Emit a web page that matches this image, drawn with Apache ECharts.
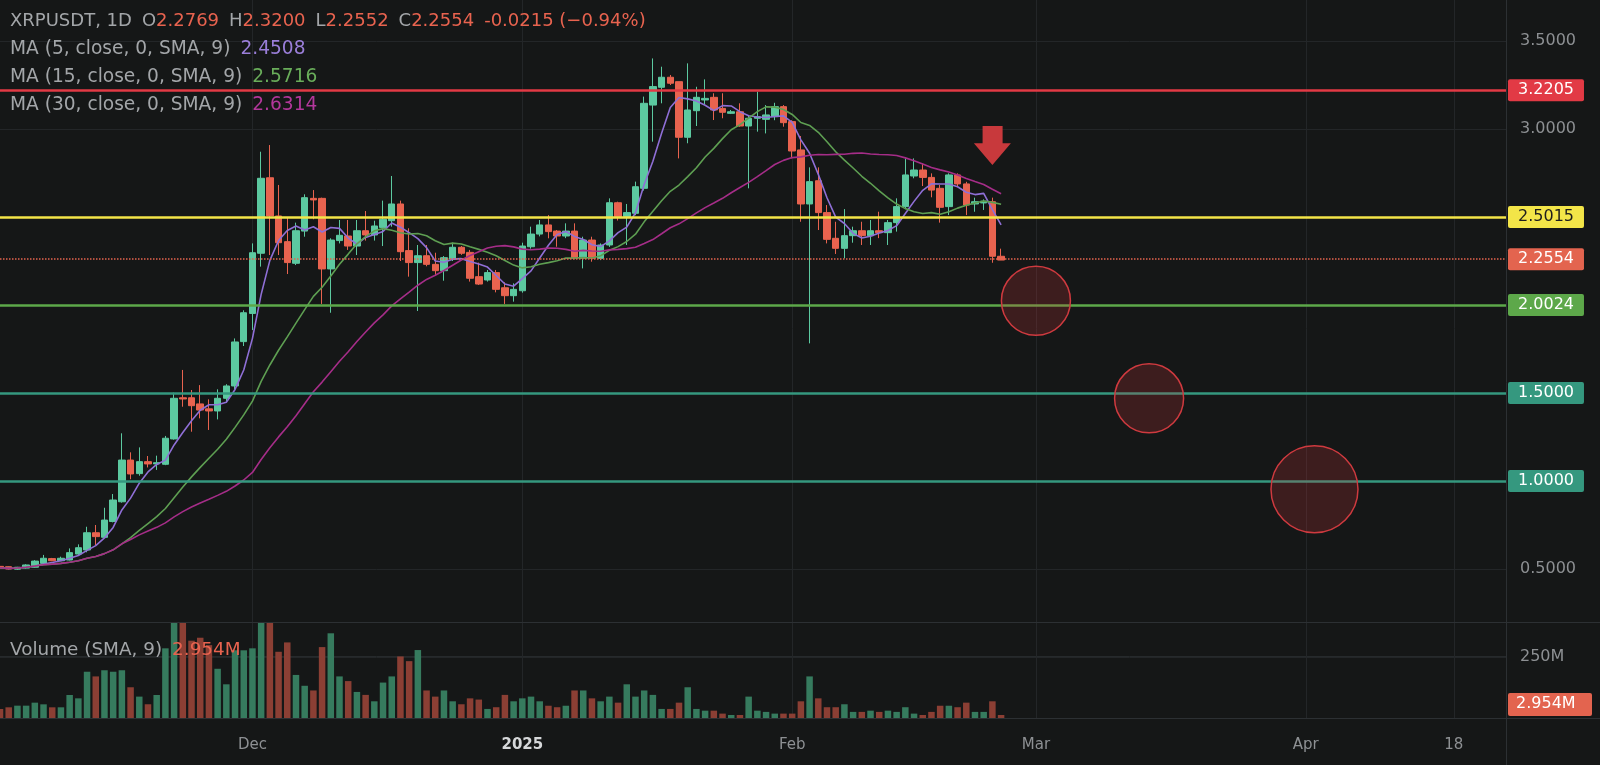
<!DOCTYPE html>
<html>
<head>
<meta charset="utf-8">
<script src="https://cdn.jsdelivr.net/npm/echarts@6/dist/echarts.min.js"></script>
<style>
html,body{margin:0;padding:0;background:#151717;}
#c{width:1600px;height:765px;}
</style>
</head>
<body>
<div id="c"></div>
<script>
// ---------- DATA ----------
const firstDay = [2024, 10, 2];   // 2024-11-02 (month index 10)
const dayCount = 174;             // axis runs to 2025-04-24

// daily candles [open, close, low, high], from 2024-11-02 to 2025-02-25
const ohlc = [
[0.515,0.507,0.500,0.520],[0.513,0.500,0.497,0.515],[0.499,0.510,0.495,0.512],[0.505,0.523,0.502,0.527],[0.510,0.545,0.508,0.550],
[0.532,0.561,0.530,0.580],[0.559,0.547,0.544,0.563],[0.547,0.561,0.545,0.570],[0.551,0.593,0.549,0.617],[0.585,0.621,0.580,0.640],
[0.608,0.706,0.595,0.740],[0.706,0.684,0.636,0.750],[0.680,0.778,0.675,0.848],[0.770,0.892,0.765,0.926],[0.882,1.119,0.877,1.271],
[1.119,1.040,1.010,1.163],[1.042,1.110,1.030,1.191],[1.110,1.097,1.077,1.142],[1.097,1.104,1.063,1.144],[1.095,1.243,1.090,1.256],
[1.239,1.470,1.235,1.502],[1.473,1.466,1.422,1.631],[1.473,1.428,1.280,1.517],[1.438,1.403,1.356,1.545],[1.410,1.398,1.290,1.464],
[1.398,1.470,1.350,1.521],[1.470,1.540,1.445,1.550],[1.540,1.790,1.520,1.810],[1.792,1.956,1.767,1.970],[1.952,2.297,1.858,2.350],
[2.294,2.720,2.218,2.871],[2.723,2.506,2.284,2.909],[2.506,2.354,2.284,2.682],[2.360,2.241,2.176,2.498],[2.237,2.422,2.227,2.468],
[2.420,2.610,2.388,2.629],[2.606,2.597,2.487,2.653],[2.606,2.205,2.006,2.610],[2.205,2.369,1.956,2.379],[2.366,2.396,2.350,2.483],
[2.392,2.335,2.313,2.483],[2.335,2.422,2.284,2.483],[2.422,2.398,2.366,2.534],[2.398,2.449,2.366,2.479],[2.441,2.487,2.335,2.593],
[2.479,2.574,2.445,2.733],[2.574,2.303,2.250,2.593],[2.309,2.241,2.161,2.436],[2.241,2.280,1.966,2.341],[2.280,2.231,2.220,2.341],
[2.231,2.195,2.167,2.297],[2.195,2.269,2.138,2.278],[2.260,2.328,2.250,2.354],[2.328,2.294,2.285,2.335],[2.299,2.152,2.133,2.313],
[2.161,2.119,2.114,2.241],[2.142,2.184,2.133,2.199],[2.184,2.089,2.072,2.199],[2.098,2.053,2.006,2.129],[2.053,2.089,2.019,2.123],
[2.081,2.335,2.070,2.354],[2.331,2.403,2.320,2.445],[2.403,2.455,2.390,2.483],[2.455,2.417,2.379,2.511],[2.420,2.392,2.331,2.426],
[2.392,2.420,2.380,2.464],[2.420,2.265,2.260,2.464],[2.265,2.369,2.208,2.388],[2.369,2.265,2.246,2.388],[2.265,2.341,2.255,2.350],
[2.341,2.581,2.330,2.606],[2.581,2.502,2.480,2.587],[2.502,2.525,2.341,2.574],[2.521,2.672,2.510,2.701],[2.663,3.146,2.650,3.184],
[3.136,3.241,2.928,3.401],[3.237,3.294,3.146,3.354],[3.294,3.260,3.250,3.307],[3.269,2.953,2.833,3.269],[2.953,3.108,2.919,3.373],
[3.104,3.180,3.017,3.240],[3.165,3.174,3.140,3.282],[3.180,3.108,3.051,3.203],[3.117,3.095,3.061,3.203],[3.089,3.098,3.085,3.108],
[3.098,3.017,3.013,3.146],[3.017,3.061,2.663,3.075],[3.061,3.070,2.985,3.212],[3.055,3.080,2.975,3.136],[3.070,3.127,3.050,3.149],
[3.127,3.036,3.013,3.136],[3.042,2.875,2.833,3.050],[2.881,2.574,2.473,2.960],[2.574,2.701,1.782,2.782],[2.706,2.525,2.426,2.782],
[2.525,2.373,2.350,2.568],[2.379,2.322,2.290,2.473],[2.322,2.394,2.265,2.545],[2.394,2.422,2.354,2.445],[2.422,2.394,2.341,2.473],
[2.394,2.422,2.341,2.483],[2.422,2.411,2.380,2.530],[2.411,2.468,2.341,2.483],[2.468,2.559,2.417,2.606],[2.559,2.739,2.544,2.833],
[2.733,2.767,2.720,2.833],[2.767,2.725,2.676,2.805],[2.725,2.653,2.612,2.748],[2.663,2.555,2.468,2.682],[2.559,2.739,2.511,2.748],
[2.739,2.688,2.676,2.748],[2.688,2.568,2.511,2.700],[2.574,2.587,2.530,2.610],[2.580,2.590,2.540,2.600],[2.587,2.2769,2.240,2.610],
[2.2769,2.2554,2.2552,2.3200]
];

// daily volume, millions
const volume = [
37.8,44.6,51.3,51.3,63.5,56.7,44.6,44.6,94.6,81,
189,170,195,189,195,126,88,57,94.6,284,
420,450,315,327,297,201,138,276,276,284,
400,420,270,308,176,132,113,289,345,170,
151,107,95,69,145,170,251,232,277,113,
88,113,69,57,81,76,38,45,95,69,
81,88,69,51,45,51,113,113,81,69,
88,63.5,138,88,113,95,38,38,63.5,126,
38,31,31,19,13.5,13.5,88,31,26,19,
19,19,69,170,81,45,45,57,26,26,
31,26,31,26,45,19,13.5,26,51,51,
45,63.5,26,26,69,13.5
];

// horizontal levels
const levelValues = [3.2205, 2.5015, 2.2554, 2.0024, 1.5, 1.0];
const levelColors = ['#e23a45', '#f3e548', '#e3644f', '#5da84a', '#35987f', '#35987f'];
const levelText   = ['#ffffff', '#1d1d1d', '#ffffff', '#ffffff', '#ffffff', '#ffffff'];
const levelDash   = ['solid', 'solid', 'dotted', 'solid', 'solid', 'solid'];
const levelWidth  = [2.5, 2.5, 1.5, 2.5, 2.5, 2.5];

// target circles: [day index, price], diameter px
const targets = [[119, 2.024], [132, 1.47], [151, 0.953]];
const targetSizes = [69, 69, 87];
// arrow marker over the breakdown candle
const arrowPoint = [[114, 2.906]];

// x tick labels
const tickDates  = ['2024-12-01', '2025-01-01', '2025-02-01', '2025-03-01', '2025-04-01', '2025-04-18'];
const tickNames  = ['Dec', '2025', 'Feb', 'Mar', 'Apr', '18'];
const priceTicksShown = [0.5, 3.0, 3.5];

// legend values
const header = {sym: 'XRPUSDT, 1D', o: '2.2769', h: '2.3200', l: '2.2552', c: '2.2554', chg: '-0.0215 (\u22120.94%)'};
const maLengths = [5, 15, 30];
const maLegendValues = ['2.4508', '2.5716', '2.6314'];
const maColors = ['#8f6fd6', '#5e9f52', '#a52d88'];
const maLegendColors = ['#9a7ed8', '#69ad5a', '#b2379b'];
const volumeLegendValue = '2.954M';

// ---------- BUILD ----------
const categories = [];
(function () {
  const t0 = Date.UTC(firstDay[0], firstDay[1], firstDay[2]);
  for (let i = 0; i < dayCount; i++) categories.push(new Date(t0 + i * 86400000).toISOString().slice(0, 10));
})();
const tickMap = {};
tickDates.forEach((d, i) => tickMap[d] = tickNames[i]);

const closes = ohlc.map(r => r[1]);
function movingAverage(n) {
  return closes.map((_, i) => {
    const s = Math.max(0, i - n + 1);
    let sum = 0;
    for (let k = s; k <= i; k++) sum += closes[k];
    return +(sum / (i - s + 1)).toFixed(4);
  });
}

const UP = '#5cc9a0', DOWN = '#e8634f';
const VUP = '#367b5e', VDOWN = '#8b3f34';
const FONT = 'DejaVu Sans';
const BG = '#151717';
const GRIDC = '#232628';

const volData = volume.map((v, i) => ({
  value: v,
  itemStyle: {color: ohlc[i][1] >= ohlc[i][0] ? VUP : VDOWN}
}));

const markLineData = levelValues.map((v, i) => ({
  yAxis: v,
  lineStyle: {color: levelColors[i], width: levelWidth[i], type: levelDash[i]},
  label: {
    show: true, position: 'end', distance: 2,
    formatter: () => v.toFixed(4),
    backgroundColor: levelColors[i], color: levelText[i],
    fontFamily: FONT, fontSize: 16, lineHeight: 17,
    padding: [3, 10, 2, 10], borderRadius: 2
  }
}));

function richStyle(color, size) {
  return {color: color, fontFamily: FONT, fontSize: size, lineHeight: 22, fontWeight: 'normal'};
}
const titles = [
  {
    left: 10, top: 10, padding: 0,
    text: `{n|${header.sym}}  {n|O}{v|${header.o}}  {n|H}{v|${header.h}}  {n|L}{v|${header.l}}  {n|C}{v|${header.c}}  {v|${header.chg}}`,
    textStyle: {fontWeight: 'normal', rich: {n: richStyle('#a3a6a9', 18), v: richStyle('#e8634f', 18)}}
  }
];
maLengths.forEach((n, i) => {
  titles.push({
    left: 10, top: 38 + i * 28, padding: 0,
    text: `{n|MA (${n}, close, 0, SMA, 9)}  {v|${maLegendValues[i]}}`,
    textStyle: {fontWeight: 'normal', rich: {n: richStyle('#a3a6a9', 18.6), v: richStyle(maLegendColors[i], 18.6)}}
  });
});
titles.push({
  left: 10, top: 639, padding: 0,
  text: `{n|Volume (SMA, 9)}  {v|${volumeLegendValue}}`,
  textStyle: {fontWeight: 'normal', rich: {n: richStyle('#a3a6a9', 18.4), v: richStyle('#e8634f', 18.4)}}
});

const maSeries = maLengths.map((n, i) => ({
  type: 'line', name: 'MA' + n,
  xAxisIndex: 0, yAxisIndex: 0,
  data: movingAverage(n),
  showSymbol: false, symbol: 'none',
  lineStyle: {color: maColors[i], width: 1.6},
  z: 3, silent: true
}));

const option = {
  animation: false,
  backgroundColor: BG,
  title: titles,
  grid: [
    {left: 0, right: 94, top: 0, height: 657},
    {left: 0, right: 94, top: 622.3, height: 96}
  ],
  xAxis: [
    {
      type: 'category', gridIndex: 0, data: categories, boundaryGap: false,
      axisLine: {show: false}, axisTick: {show: false}, axisLabel: {show: false},
      splitLine: {show: true, interval: (i, v) => (v in tickMap), lineStyle: {color: GRIDC, width: 1}}
    },
    {
      type: 'category', gridIndex: 1, data: categories, boundaryGap: false,
      axisLine: {show: false}, axisTick: {show: false},
      axisLabel: {
        show: true, interval: (i, v) => (v in tickMap), margin: 19,
        formatter: v => v === '2025-01-01' ? '{b|' + tickMap[v] + '}' : tickMap[v],
        color: '#8d9093', fontFamily: FONT, fontSize: 15,
        rich: {b: {color: '#d6d8da', fontWeight: 'bold', fontFamily: FONT, fontSize: 15}}
      },
      splitLine: {show: true, interval: (i, v) => (v in tickMap), lineStyle: {color: GRIDC, width: 1}}
    }
  ],
  yAxis: [
    {
      type: 'value', gridIndex: 0, position: 'right', min: 0, max: 3.733, interval: 0.5,
      axisLine: {show: false}, axisTick: {show: false},
      axisLabel: {
        margin: 14, color: '#8d9093', fontFamily: FONT, fontSize: 16,
        showMinLabel: true, showMaxLabel: true,
        formatter: v => priceTicksShown.some(t => Math.abs(t - v) < 1e-6) ? v.toFixed(4) : ''
      },
      splitLine: {show: true, showMaxLine: false, lineStyle: {color: GRIDC, width: 1}}
    },
    {
      type: 'value', gridIndex: 1, position: 'right', min: 0, max: 389.6, interval: 250,
      axisLine: {show: false}, axisTick: {show: false},
      axisLabel: {
        margin: 14, color: '#8d9093', fontFamily: FONT, fontSize: 16,
        formatter: v => Math.abs(v - 250) < 1e-6 ? '250M' : ''
      },
      splitLine: {show: true, showMaxLine: false, showMinLine: false, lineStyle: {color: '#262a2c', width: 1}}
    }
  ],
  series: [
    {
      type: 'candlestick', name: 'XRPUSDT',
      xAxisIndex: 0, yAxisIndex: 0,
      data: ohlc, barWidth: 7,
      itemStyle: {color: UP, color0: DOWN, borderColor: UP, borderColor0: DOWN, borderWidth: 1},
      markLine: {
        silent: true, symbol: ['none', 'none'], z: 5,
        data: markLineData
      },
      z: 2
    },
    ...maSeries,
    {
      type: 'bar', name: 'Volume',
      xAxisIndex: 1, yAxisIndex: 1,
      data: volData, barWidth: 6.5
    },
    {
      type: 'scatter', name: 'targets',
      xAxisIndex: 0, yAxisIndex: 0,
      data: targets,
      symbol: 'circle',
      symbolSize: (val, p) => targetSizes[p.dataIndex],
      itemStyle: {color: 'rgba(205,55,60,0.22)', borderColor: '#cf3a3f', borderWidth: 1.5, opacity: 1},
      z: 6, silent: true
    },
    {
      type: 'scatter', name: 'arrow',
      xAxisIndex: 0, yAxisIndex: 0,
      data: arrowPoint,
      symbol: 'path://M23.5,0 L77.6,0 L77.6,44 L100,44 L50,100 L0,44 L23.5,44 Z',
      symbolSize: [37, 39], symbolKeepAspect: false,
      itemStyle: {color: '#c8393c', opacity: 1},
      z: 6, silent: true
    }
  ],
  graphic: [
    {type: 'line', shape: {x1: 0, y1: 622.5, x2: 1600, y2: 622.5}, style: {stroke: '#2c3033', lineWidth: 1}, silent: true, z: 10},
    {type: 'line', shape: {x1: 0, y1: 718.5, x2: 1600, y2: 718.5}, style: {stroke: '#2c3033', lineWidth: 1}, silent: true, z: 10},
    {type: 'line', shape: {x1: 1506.5, y1: 0, x2: 1506.5, y2: 765}, style: {stroke: '#2c3033', lineWidth: 1}, silent: true, z: 10},
    {type: 'group', left: 1508, top: 693, z: 11, children: [
      {type: 'rect', shape: {x: 0, y: 0, width: 84, height: 23, r: 2}, style: {fill: '#e3644f'}},
      {type: 'text', x: 8, y: 3, style: {text: volumeLegendValue, fill: '#ffffff', font: '16px "DejaVu Sans"'}}
    ]}
  ]
};

const chart = echarts.init(document.getElementById('c'), null, {renderer: 'canvas'});
chart.setOption(option);
</script>
</body>
</html>
